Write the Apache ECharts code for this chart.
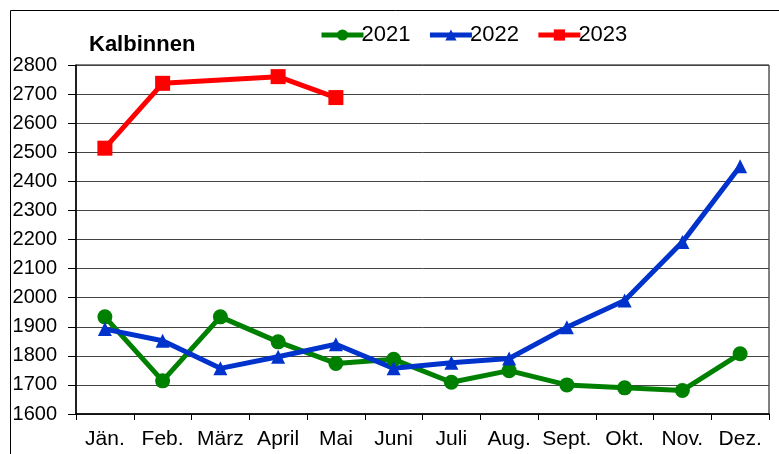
<!DOCTYPE html>
<html><head><meta charset="utf-8">
<script src="https://cdn.jsdelivr.net/npm/echarts@6/dist/echarts.min.js"></script>
<style>html,body{margin:0;padding:0;background:#fff}#c{width:779px;height:454px}</style>
</head><body><div id="c"></div>
<script>
const months = ['Jän.','Feb.','März','April','Mai','Juni','Juli','Aug.','Sept.','Okt.','Nov.','Dez.'];
const s2021 = [1934,1714,1934,1848,1774,1788,1709,1749,1700,1690,1681,1807];
const s2022 = [1892,1852,1757,1797,1840,1757,1776,1791,1898,1990,2191,2452];
const s2023 = [2514,2737,null,2760,2688,null,null,null,null,null,null,null];
const yTicks = {min:1600, max:2800, interval:100};
const titleText = 'Kalbinnen';
const F = 'Liberation Sans, Arial, sans-serif';
const chart = echarts.init(document.getElementById('c'));
chart.setOption({
  animation:false,
  backgroundColor:'#fff',
  graphic:[{type:'rect',shape:{x:10.5,y:10.5,width:900,height:600},style:{fill:null,stroke:'#000',lineWidth:1}}],
  title:{text:titleText,left:84,top:29,textStyle:{fontFamily:F,fontSize:22,fontWeight:'bold',color:'#000'}},
  legend:{left:314,top:19,itemWidth:42,itemHeight:14,itemGap:17,
    textStyle:{fontFamily:F,fontSize:22,color:'#000',padding:[0,0,0,-7]},
    lineStyle:{width:5},
    data:['2021','2022','2023']},
  grid:{left:76,right:10,top:65,bottom:40,show:true,borderColor:'#000',borderWidth:1},
  xAxis:{type:'category',data:months,boundaryGap:true,
    axisLine:{lineStyle:{color:'#000',width:1.5}},
    axisTick:{show:true,length:6,lineStyle:{color:'#000'}},
    axisLabel:{color:'#000',fontFamily:F,fontSize:21,margin:15,interval:0}},
  yAxis:{type:'value',min:yTicks.min,max:yTicks.max,interval:yTicks.interval,
    axisLine:{show:true,lineStyle:{color:'#000',width:1.5}},
    axisTick:{show:true,length:8,lineStyle:{color:'#000'}},
    axisLabel:{color:'#000',fontFamily:F,fontSize:20,margin:19,formatter:v=>String(v)},
    splitLine:{lineStyle:{color:'#444',width:1}}},
  series:[
    {name:'2021',type:'line',data:s2021,color:'#008000',symbol:'circle',symbolSize:15,
      lineStyle:{width:5,color:'#008000'},itemStyle:{color:'#008000'}},
    {name:'2022',type:'line',data:s2022,color:'#0033cc',symbol:'triangle',symbolSize:14,
      lineStyle:{width:5,color:'#0033cc'},itemStyle:{color:'#0033cc'}},
    {name:'2023',type:'line',data:s2023,color:'#ff0000',symbol:'rect',symbolSize:15,connectNulls:true,
      lineStyle:{width:5,color:'#ff0000'},itemStyle:{color:'#ff0000'}}
  ]
});
</script></body></html>
